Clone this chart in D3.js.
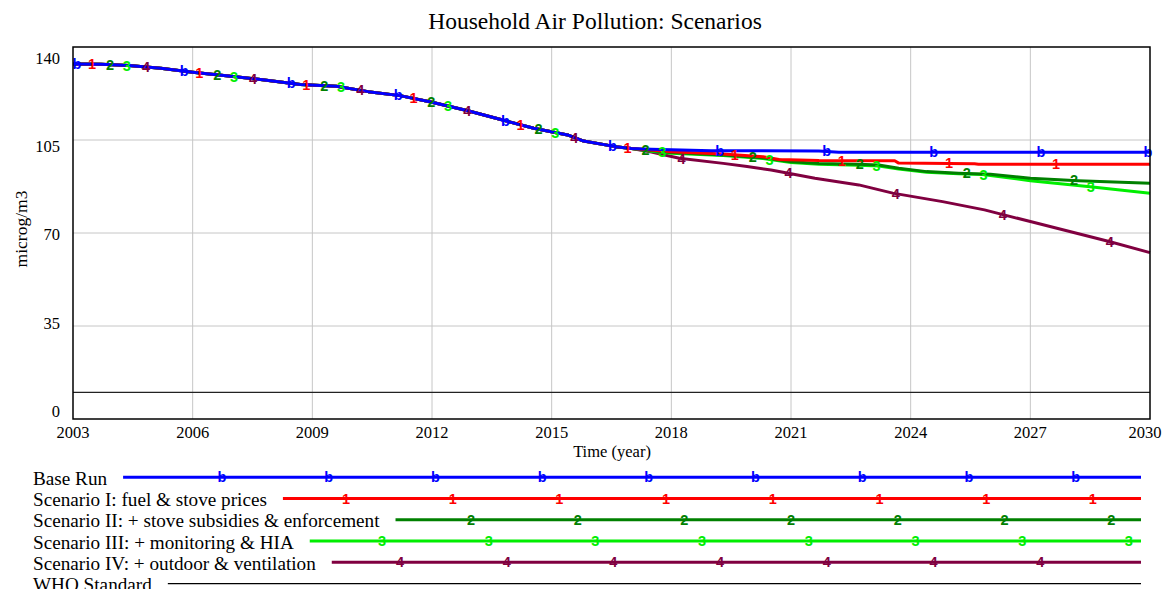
<!DOCTYPE html>
<html>
<head>
<meta charset="utf-8">
<script src="https://cdn.jsdelivr.net/npm/d3@7"></script>
<style>
  html, body { margin: 0; padding: 0; background: #fff; }
  svg { display: block; }
  text { font-family: "Liberation Serif", "Times New Roman", serif; fill: #000; }
  .mk { font-family: "Liberation Sans", Arial, sans-serif; font-weight: bold; }
</style>
</head>
<body>
<svg id="chart" width="1165" height="589"></svg>
<script>
// ---- data -------------------------------------------------------------
// history shared by every run (year, microg/m3)
const sharedYears  = [2003.0, 2003.7, 2004.4, 2005.2, 2006.0, 2006.9, 2007.7, 2008.7, 2009.2, 2009.6,
                      2010.4, 2011.2, 2012.0, 2012.9, 2013.7, 2014.55, 2015.4, 2015.8, 2016.6, 2017.0];
const sharedValues = [133.6, 133.5, 133.0, 132.0, 130.5, 129.1, 127.8, 125.9, 125.5, 125.2,
                      123.2, 121.7, 119.2, 116.0, 112.8, 109.4, 106.9, 104.6, 102.5, 101.8];

// projections after 2017
const baseYears  = [2017.5, 2018.0, 2019.0, 2021.7, 2022.2, 2030];
const baseValues = [101.5, 101.3, 101.0, 100.9, 100.4, 100.4];

const s1Years  = [2017.5, 2018.0, 2019.3, 2020.3, 2020.7, 2021.7, 2023.6, 2023.7, 2025.6, 2025.7, 2030];
const s1Values = [101.2, 100.6, 99.7, 98.7, 97.7, 97.3, 97.2, 96.3, 96.1, 95.9, 95.9];

const s2Years  = [2017.5, 2018.0, 2019.3, 2020.3, 2021.0, 2021.7, 2022.7, 2023.2, 2023.7, 2024.4, 2025.2, 2026.0, 2027.0, 2028.2, 2030];
const s2Values = [101.0, 100.3, 99.4, 98.3, 96.8, 96.2, 95.9, 95.6, 94.4, 93.1, 92.5, 92.1, 90.6, 89.7, 88.7];

const s3Years  = [2017.5, 2018.0, 2019.3, 2020.3, 2021.0, 2021.7, 2022.7, 2023.2, 2023.7, 2024.4, 2025.2, 2025.8, 2027.0, 2028.5, 2030];
const s3Values = [100.8, 100.0, 99.2, 98.0, 96.5, 95.9, 95.5, 95.2, 94.1, 92.9, 92.3, 92.0, 89.7, 87.4, 85.0];

const s4Years  = [2017.5, 2018.2, 2019.3, 2019.9, 2020.5, 2021.6, 2022.7, 2023.55, 2024.8, 2025.85, 2027.0, 2029.0, 2030];
const s4Values = [100.5, 98.1, 96.2, 95.0, 93.7, 90.6, 88.1, 85.0, 81.8, 78.7, 74.3, 66.7, 62.6];

const whoStandard = 10;

const seriesNames = [
  "Base Run",
  "Scenario I: fuel & stove prices",
  "Scenario II: + stove subsidies & enforcement",
  "Scenario III: + monitoring & HIA",
  "Scenario IV: + outdoor & ventilation",
  "WHO Standard"
];
const seriesMarks  = ["b", "1", "2", "3", "4", null];
const seriesColors = ["#0000ff", "#ff0000", "#008000", "#00ee00", "#800040", "#000000"];

const xTicks = [2003, 2006, 2009, 2012, 2015, 2018, 2021, 2024, 2027, 2030];
const yTicks = [0, 35, 70, 105, 140];

// ---- layout -----------------------------------------------------------
const svg = d3.select("#chart");
const plot = { left: 73, right: 1150, top: 47, bottom: 419 };

const x = d3.scaleLinear().domain([2003, 2030]).range([plot.left, plot.right]);
const y = d3.scaleLinear().domain([0, 140]).range([plot.bottom, plot.top]);
// tick captions sit on an evenly spread column beside the axis
const yLabel = d3.scaleLinear().domain([0, 140]).range([417, 63.5]);

function join(ys, vs) {
  const pts = sharedYears.map((t, i) => ({ t, v: sharedValues[i] }));
  return pts.concat(ys.map((t, i) => ({ t, v: vs[i] })));
}
const runs = [
  join(baseYears, baseValues),
  join(s1Years, s1Values),
  join(s2Years, s2Values),
  join(s3Years, s3Values),
  join(s4Years, s4Values)
];

function valueAt(pts, t) {
  const bis = d3.bisector(d => d.t).right;
  let i = bis(pts, t);
  if (i <= 0) return pts[0].v;
  if (i >= pts.length) return pts[pts.length - 1].v;
  const a = pts[i - 1], b = pts[i];
  return a.v + (b.v - a.v) * (t - a.t) / (b.t - a.t);
}

// title
svg.append("text").attr("x", 595).attr("y", 29).attr("text-anchor", "middle")
  .style("font-size", "23.5px").text("Household Air Pollution: Scenarios");

// grid
const grid = svg.append("g");
grid.selectAll("line.v").data(xTicks.slice(1, -1)).join("line")
  .attr("x1", d => x(d)).attr("x2", d => x(d))
  .attr("y1", plot.top).attr("y2", plot.bottom)
  .attr("stroke", "#c6c6c6").attr("stroke-width", 1);
grid.selectAll("line.h").data(yTicks.slice(1, -1)).join("line")
  .attr("x1", plot.left).attr("x2", plot.right)
  .attr("y1", d => y(d)).attr("y2", d => y(d))
  .attr("stroke", "#c6c6c6").attr("stroke-width", 1);

// WHO guideline
svg.append("line")
  .attr("x1", plot.left).attr("x2", plot.right)
  .attr("y1", y(whoStandard)).attr("y2", y(whoStandard))
  .attr("stroke", "#222").attr("stroke-width", 1.2);

// run lines, drawn so that the base run ends up on top
const line = d3.line().x(d => x(d.t)).y(d => y(d.v));
const order = [4, 3, 2, 1, 0];
svg.append("g").selectAll("path").data(order).join("path")
  .attr("d", i => line(runs[i]))
  .attr("fill", "none")
  .attr("stroke", i => seriesColors[i])
  .attr("stroke-width", 3)
  .attr("stroke-linejoin", "round");

// run markers
const markStart = [2003.1, 2003.48, 2003.93, 2004.35, 2004.83];
const markStep = 2.685;
const markG = svg.append("g");
order.forEach(i => {
  const ts = d3.range(markStart[i], 2030.01, markStep);
  markG.selectAll(null).data(ts).join("text")
    .attr("class", "mk")
    .attr("x", t => x(t)).attr("y", t => y(valueAt(runs[i], t)))
    .attr("text-anchor", "middle").attr("dominant-baseline", "central")
    .style("font-size", "14.5px").style("fill", seriesColors[i])
    .text(seriesMarks[i]);
});

// frame
svg.append("rect")
  .attr("x", plot.left).attr("y", plot.top)
  .attr("width", plot.right - plot.left).attr("height", plot.bottom - plot.top)
  .attr("fill", "none").attr("stroke", "#000").attr("stroke-width", 1.5);

// axis captions
svg.append("g").selectAll("text").data(yTicks).join("text")
  .attr("x", 60).attr("y", d => yLabel(d)).attr("text-anchor", "end")
  .style("font-size", "16.5px").text(d => d);
svg.append("g").selectAll("text").data(xTicks).join("text")
  .attr("x", d => Math.min(x(d), 1145)).attr("y", 438).attr("text-anchor", "middle")
  .style("font-size", "16.5px").text(d => d);

svg.append("text").attr("x", 612).attr("y", 457).attr("text-anchor", "middle")
  .style("font-size", "16.5px").text("Time (year)");
svg.append("text").attr("transform", "translate(27,229) rotate(-90)")
  .attr("text-anchor", "middle").style("font-size", "17.5px").text("microg/m3");

// legend
const legendTop = 477.3, legendStep = 21.25, legendEnd = 1141;
const legendPhase = [8.6, 25.9, 44.2, 61.9, 79.9];
const legendSpacing = 106.7;
const lg = svg.append("g");
seriesNames.forEach((name, i) => {
  const cy = legendTop + i * legendStep;
  const label = lg.append("text").attr("x", 33).attr("y", cy + 7.5)
    .style("font-size", "19.2px").text(name);
  const x0 = 33 + label.node().getComputedTextLength() + 16;
  lg.append("line").attr("x1", x0).attr("x2", legendEnd).attr("y1", cy).attr("y2", cy)
    .attr("stroke", seriesColors[i]).attr("stroke-width", i === 5 ? 1.2 : 3);
  if (seriesMarks[i]) {
    const xs = d3.range(legendPhase[i], legendEnd - 8, legendSpacing).filter(v => v > x0 + 8);
    lg.selectAll(null).data(xs).join("text")
      .attr("class", "mk").attr("x", d => d).attr("y", cy)
      .attr("text-anchor", "middle").attr("dominant-baseline", "central")
      .style("font-size", "14.5px").style("fill", seriesColors[i])
      .text(seriesMarks[i]);
  }
});
</script>
</body>
</html>
